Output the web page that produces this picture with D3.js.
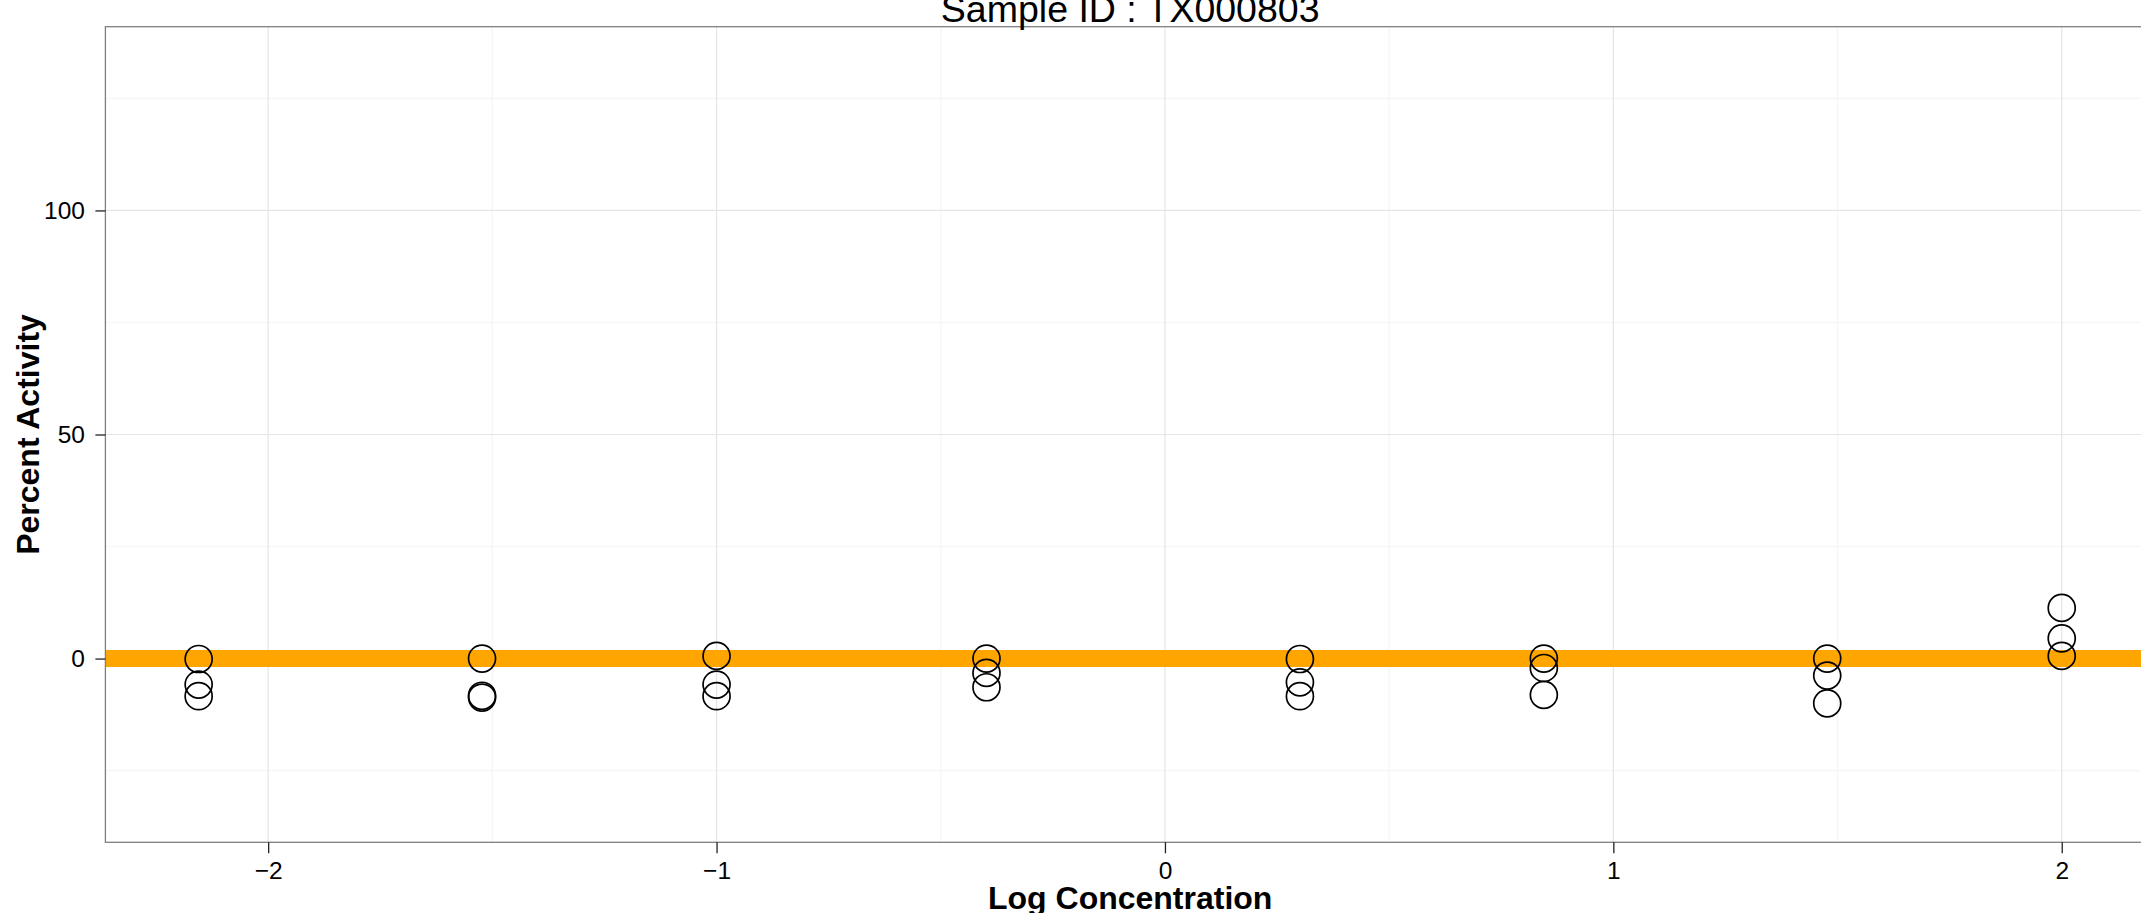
<!DOCTYPE html>
<html>
<head>
<meta charset="utf-8">
<script src="https://cdn.jsdelivr.net/npm/d3@7"></script>
<style>
  html, body { margin: 0; padding: 0; background: #fff; overflow: hidden; }
  svg { display: block; font-family: "Liberation Sans", Arial, Helvetica, sans-serif; }
</style>
</head>
<body>
<svg id="chart" width="2141" height="913"></svg>
<script>
// ---- data ----
const titleText = "Sample ID : TX000803";
const xLabel = "Log Concentration";
const yLabel = "Percent Activity";
const logConc = [-2.155, -1.523, -1.0, -0.398, 0.301, 0.845, 1.477, 2.0];
const rep1 = [-0.1, 0.0, 0.6, 0.0, -0.1, 0.0, 0.0, 11.3];
const rep2 = [-5.8, -8.3, -5.8, -3.2, -5.3, -2.1, -3.8, 4.5];
const rep3 = [-8.4, -8.7, -8.4, -6.4, -8.4, -8.1, -10.0, 0.6];
const fitLevel = 0;
const xTicks = [-2, -1, 0, 1, 2];
const xMinor = [-1.5, -0.5, 0.5, 1.5];
const yTicks = [0, 50, 100];
const yMinor = [-25, 25, 75, 125];
const xDomain = [-2.363, 2.208];
const yDomain = [-41, 141];

// ---- layout ----
const panel = { left: 105.4, right: 2155, top: 26.7, bottom: 842.3 };
const svg = d3.select("#chart");

const x = d3.scaleLinear().domain(xDomain).range([panel.left, panel.right]);
const y = d3.scaleLinear().domain(yDomain).range([panel.bottom, panel.top]);

const points = [];
logConc.forEach((c, i) => {
  [rep1, rep2, rep3].forEach(r => points.push({ x: c, y: r[i] }));
});

// background
svg.append("rect")
  .attr("x", panel.left).attr("y", panel.top)
  .attr("width", panel.right - panel.left).attr("height", panel.bottom - panel.top)
  .attr("fill", "#ffffff");

const grid = svg.append("g");
// minor grid
grid.selectAll(".ymin").data(yMinor).enter().append("line")
  .attr("x1", panel.left).attr("x2", panel.right)
  .attr("y1", d => y(d)).attr("y2", d => y(d))
  .attr("stroke", "#F7F7F7").attr("stroke-width", 1.6);
grid.selectAll(".xmin").data(xMinor).enter().append("line")
  .attr("y1", panel.top).attr("y2", panel.bottom)
  .attr("x1", d => x(d)).attr("x2", d => x(d))
  .attr("stroke", "#F7F7F7").attr("stroke-width", 1.6);
// major grid
grid.selectAll(".ymaj").data(yTicks).enter().append("line")
  .attr("x1", panel.left).attr("x2", panel.right)
  .attr("y1", d => y(d)).attr("y2", d => y(d))
  .attr("stroke", "#E5E5E5").attr("stroke-width", 1.2);
grid.selectAll(".xmaj").data(xTicks).enter().append("line")
  .attr("y1", panel.top).attr("y2", panel.bottom)
  .attr("x1", d => x(d)).attr("x2", d => x(d))
  .attr("stroke", "#E5E5E5").attr("stroke-width", 1.2);

// fitted line
const line = d3.line().x(d => x(d[0])).y(d => y(d[1]));
svg.append("path")
  .datum([[xDomain[0], fitLevel], [xDomain[1], fitLevel]])
  .attr("d", line)
  .attr("fill", "none")
  .attr("stroke", "#FFA500")
  .attr("stroke-width", 17);

// points
svg.append("g").selectAll("circle").data(points).enter().append("circle")
  .attr("cx", d => x(d.x)).attr("cy", d => y(d.y))
  .attr("r", 13.5)
  .attr("fill", "none")
  .attr("stroke", "#000")
  .attr("stroke-width", 1.7);

// panel border
svg.append("rect")
  .attr("x", panel.left).attr("y", panel.top)
  .attr("width", panel.right - panel.left).attr("height", panel.bottom - panel.top)
  .attr("fill", "none")
  .attr("stroke", "#7F7F7F")
  .attr("stroke-width", 1.3);

// axes
const yAxis = d3.axisLeft(y).tickValues(yTicks).tickSize(10).tickPadding(10.4);
const gy = svg.append("g").attr("transform", `translate(${panel.left},0)`).call(yAxis);
gy.select(".domain").remove();
gy.selectAll(".tick line").attr("stroke", "#222").attr("stroke-width", 1.3);
gy.selectAll(".tick text").attr("font-size", 24.5).attr("fill", "#000")
  .attr("font-family", "'Liberation Sans', Arial, sans-serif");

const xAxis = d3.axisBottom(x).tickValues(xTicks).tickSize(11).tickPadding(8.7).tickFormat(d3.format("d"));
const gx = svg.append("g").attr("transform", `translate(0,${panel.bottom})`).call(xAxis);
gx.select(".domain").remove();
gx.selectAll(".tick line").attr("stroke", "#222").attr("stroke-width", 1.3);
gx.selectAll(".tick text").attr("font-size", 24.5).attr("fill", "#000")
  .attr("font-family", "'Liberation Sans', Arial, sans-serif");

// titles
const cx = (panel.left + panel.right) / 2;
svg.append("text")
  .attr("x", cx).attr("y", 21.7)
  .attr("text-anchor", "middle")
  .attr("font-size", 37.5)
  .attr("fill", "#000")
  .text(titleText);

svg.append("text")
  .attr("x", cx).attr("y", 909)
  .attr("text-anchor", "middle")
  .attr("font-size", 32)
  .attr("font-weight", "bold")
  .attr("fill", "#000")
  .text(xLabel);

svg.append("text")
  .attr("transform", `translate(38.5,${(panel.top + panel.bottom) / 2}) rotate(-90)`)
  .attr("text-anchor", "middle")
  .attr("font-size", 32)
  .attr("font-weight", "bold")
  .attr("fill", "#000")
  .text(yLabel);
</script>
</body>
</html>
